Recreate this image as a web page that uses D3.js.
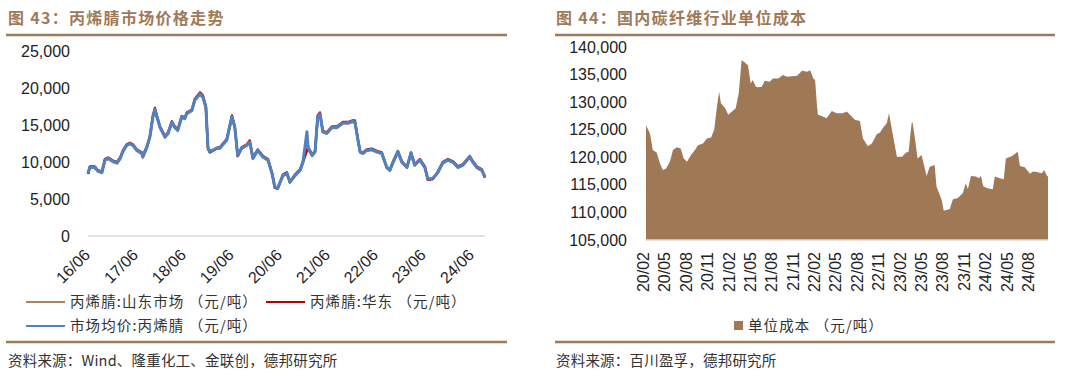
<!DOCTYPE html>
<html>
<head>
<meta charset="utf-8">
<script src="https://cdn.jsdelivr.net/npm/d3@7"></script>
<style>
    body { margin: 0; background: #fff; }
    text { font-family: "Liberation Sans", Arial, sans-serif; }
    .cjk { font-family: "Noto Sans CJK SC", sans-serif; }
</style>
</head>
<body>
<div id="chart"></div>
<script>
// 图43 丙烯腈价格
const priceDates = ["2016-06-01","2016-06-15","2016-07-23","2016-08-15","2016-09-15","2016-10-08","2016-11-01","2016-12-08","2017-01-08","2017-02-01",
    "2017-02-23","2017-03-23","2017-04-15","2017-05-08","2017-06-08","2017-07-15","2017-07-23","2017-08-23","2017-09-15","2017-10-08",
    "2017-10-23","2017-11-08","2017-12-01","2018-01-08","2018-02-01","2018-03-01","2018-03-23","2018-04-15","2018-05-15","2018-06-08",
    "2018-06-23","2018-08-01","2018-08-23","2018-10-01","2018-10-23","2018-11-15","2018-12-01","2018-12-15","2019-02-08","2019-03-01",
    "2019-04-23","2019-06-01","2019-06-23","2019-07-15","2019-08-15","2019-09-23","2019-10-15","2019-11-08","2019-12-15","2020-01-23",
    "2020-03-01","2020-04-01","2020-04-23","2020-05-15","2020-06-23","2020-07-23","2020-08-15","2020-09-23","2020-11-01","2020-11-23",
    "2020-12-23","2021-01-01","2021-02-01","2021-02-23","2021-03-15","2021-04-01","2021-04-23","2021-05-23","2021-07-01","2021-08-08",
    "2021-09-23","2021-11-01","2021-12-01","2021-12-23","2022-01-15","2022-02-01","2022-02-23","2022-03-23","2022-05-01","2022-06-08",
    "2022-07-15","2022-08-23","2022-09-15","2022-10-08","2022-11-15","2022-12-15","2023-01-23","2023-02-23","2023-03-23","2023-05-01",
    "2023-06-08","2023-07-01","2023-08-08","2023-09-15","2023-10-23","2023-12-01","2024-01-08","2024-02-15","2024-03-23","2024-05-15",
    "2024-06-08","2024-07-08","2024-08-15","2024-09-08"];

const shandong = [8400,9200,9200,8700,8500,10200,10400,10000,9800,10400,
    11400,12200,12400,12200,11500,11100,10600,11900,13300,16000,
    17000,16000,14600,13300,13800,15300,14600,14200,16000,15800,
    16500,16900,18300,19100,18700,17300,11900,11300,11800,11800,
    12900,16000,14600,10800,11800,12200,12600,10400,11500,10600,
    10200,8400,6500,6400,8100,8400,7200,8100,8800,9900,
    11500,11800,10800,11300,16000,16400,14000,13800,14600,14600,
    15200,15200,15400,15300,12900,11300,11100,11500,11600,11300,
    11100,9200,8800,9800,11300,9900,9200,11100,9500,10200,
    9200,7600,7700,8500,9800,10200,9900,9200,9500,10600,
    9900,9200,8800,7900];

const huadong = [8400,9400,9400,8900,8700,10400,10600,10200,10000,10600,
    11600,12400,12600,12400,11700,11300,10800,12100,13500,16300,
    17300,16200,14800,13500,14000,15500,14800,14400,16200,16000,
    16700,17100,18500,19400,19000,17500,11800,11300,11900,12000,
    13100,16300,14800,10800,12000,12400,12900,10600,11700,10800,
    10400,8600,6500,6400,8300,8600,7300,8300,9000,10100,
    11600,12000,11000,11500,16300,16700,14200,14000,14800,14800,
    15400,15400,15600,15600,13100,11300,11300,11700,11800,11500,
    11300,9200,8900,10000,11500,10100,9300,11300,9700,10400,
    9400,7600,7700,8700,10000,10400,10100,9400,9700,10800,
    10100,9400,9000,7900];

const avgPrice = [8500,9300,9300,8800,8600,10300,10500,10100,9900,10500,
    11500,12300,12500,12300,11600,11200,10700,12000,13400,16100,
    17100,16100,14700,13400,13900,15400,14700,14300,16100,15900,
    16600,17000,18400,19200,18800,17400,12000,11400,11900,11900,
    13000,16100,14700,10900,11900,12300,12700,10500,11600,10700,
    10300,8500,6600,6500,8200,8500,7300,8200,8900,10000,
    14100,11900,10900,11400,16100,16500,14100,13900,14700,14700,
    15300,15300,15500,15400,13000,11400,11200,11600,11700,11400,
    11200,9300,8900,9900,11400,10000,9300,11200,9600,10300,
    9300,7700,7800,8600,9900,10300,10000,9300,9600,10700,
    10000,9300,8900,8000];

const priceTicks = [0, 5000, 10000, 15000, 20000, 25000];
const priceXTicks = ["2016-06-01","2017-06-01","2018-06-01","2019-06-01","2020-06-01","2021-06-01","2022-06-01","2023-06-01","2024-06-01"];

// 图44 碳纤维单位成本
const costDates = ["2020-02-13","2020-03-01","2020-03-13","2020-03-30","2020-04-12","2020-04-25","2020-05-08","2020-05-25","2020-06-07","2020-06-24",
    "2020-07-10","2020-07-23","2020-08-06","2020-08-23","2020-09-09","2020-09-22","2020-10-13","2020-10-30","2020-11-17","2020-11-30",
    "2020-12-12","2020-12-21","2020-12-29","2021-01-16","2021-01-29","2021-02-14","2021-03-02","2021-03-15","2021-03-27","2021-04-10",
    "2021-04-23","2021-05-05","2021-05-14","2021-05-27","2021-06-04","2021-06-21","2021-07-04","2021-07-25","2021-08-08","2021-08-30",
    "2021-09-20","2021-10-07","2021-11-19","2021-12-10","2022-01-01","2022-01-14","2022-01-27","2022-02-04","2022-02-12","2022-02-16",
    "2022-03-04","2022-03-25","2022-04-16","2022-05-07","2022-06-02","2022-06-19","2022-07-10","2022-07-23","2022-08-14","2022-08-27",
    "2022-09-17","2022-10-04","2022-10-25","2022-11-08","2022-11-20","2022-12-07","2022-12-16","2023-01-02","2023-01-19","2023-02-10",
    "2023-02-26","2023-03-10","2023-03-23","2023-03-27","2023-04-09","2023-04-17","2023-05-04","2023-05-26","2023-06-08","2023-06-29",
    "2023-07-07","2023-07-29","2023-08-07","2023-09-02","2023-09-15","2023-10-06","2023-10-27","2023-11-09","2023-11-18","2023-12-01",
    "2023-12-22","2024-01-04","2024-01-13","2024-01-22","2024-02-08","2024-03-03","2024-03-12","2024-04-02","2024-04-19","2024-04-28",
    "2024-05-23","2024-06-18","2024-06-27","2024-07-18","2024-08-09","2024-08-22","2024-09-12","2024-09-29","2024-10-08","2024-10-21",
    "2024-10-25"];

const unitCost = [125800,124300,121300,120800,118900,117700,117900,119200,121300,121800,
    121600,119800,119200,120400,121300,122200,122500,123400,123600,125000,
    129200,131900,129800,128900,127700,128300,128900,131600,137600,137200,
    136700,133400,134000,132800,132700,132800,133900,133700,134300,134300,
    134900,134600,134800,135700,135500,135800,134300,134000,129200,127700,
    127500,127100,128400,128000,128000,128300,127400,126800,126600,123400,
    122000,122500,124200,124500,125300,126200,128000,124000,120100,120100,
    120800,121000,126200,126300,122500,119800,120400,116600,118300,118600,
    114700,112300,110300,110600,112400,112600,113500,115300,114200,116600,
    116500,116200,116600,114800,114400,114200,116500,116200,116000,119800,
    120200,121000,118400,118200,117000,117400,117300,117100,117700,116600,
    116500];

const costTicks = [105000, 110000, 115000, 120000, 125000, 130000, 135000, 140000];
const costXTicks = ["2020-02-01","2020-05-01","2020-08-01","2020-11-01","2021-02-01","2021-05-01","2021-08-01","2021-11-01","2022-02-01",
    "2022-05-01","2022-08-01","2022-11-01","2023-02-01","2023-05-01","2023-08-01","2023-11-01","2024-02-01","2024-05-01","2024-08-01"];

function main() {
    const brown = "#a07a58";
    const parse = d3.timeParse("%Y-%m-%d");
    const fmtComma = d3.format(",");
    const fmtYM = d3.timeFormat("%y/%m");

    const svg = d3.select("#chart").append("svg")
        .attr("width", 1080)
        .attr("height", 375);

    // ---------- headers / footers ----------
    const panels = [
        { x0: 6, x1: 507, tx: 8, title: "图 43：丙烯腈市场价格走势", src: "资料来源：Wind、隆重化工、金联创，德邦研究所" },
        { x0: 555, x1: 1055, tx: 556, title: "图 44：国内碳纤维行业单位成本", src: "资料来源：百川盈孚，德邦研究所" }
    ];
    panels.forEach(p => {
        svg.append("text")
            .attr("class", "cjk")
            .attr("x", p.tx)
            .attr("y", 24)
            .attr("font-size", "16px")
            .attr("font-weight", "bold")
            .attr("letter-spacing", "1.3px")
            .attr("fill", brown)
            .text(p.title);
        svg.append("line")
            .attr("x1", p.x0).attr("x2", p.x1)
            .attr("y1", 35).attr("y2", 35)
            .attr("stroke", brown)
            .attr("stroke-width", 2.5);
        svg.append("line")
            .attr("x1", p.x0).attr("x2", p.x1)
            .attr("y1", 342).attr("y2", 342)
            .attr("stroke", brown)
            .attr("stroke-width", 2.5);
        svg.append("text")
            .attr("class", "cjk")
            .attr("x", p.tx)
            .attr("y", 366)
            .attr("font-size", "14.5px")
            .attr("letter-spacing", "0.2px")
            .attr("fill", "#333")
            .text(p.src);
    });

    // ---------- left: 丙烯腈价格 ----------
    const xP = d3.scaleTime()
        .domain([parse(priceDates[0]), parse(priceDates[priceDates.length - 1])])
        .range([88, 485]);
    const yP = d3.scaleLinear().domain([0, 25000]).range([236, 51]);

    const left = svg.append("g");

    left.append("line")
        .attr("x1", 88).attr("x2", 485)
        .attr("y1", yP(0)).attr("y2", yP(0))
        .attr("stroke", "#d9d9d9")
        .attr("stroke-width", 1.5);

    left.selectAll(".ylab")
        .data(priceTicks)
        .enter()
        .append("text")
        .attr("class", "ylab")
        .attr("x", 70)
        .attr("y", d => yP(d))
        .attr("dy", "0.35em")
        .attr("text-anchor", "end")
        .attr("font-size", "16px")
        .attr("fill", "#222")
        .text(d => fmtComma(d));

    left.selectAll(".xlab")
        .data(priceXTicks)
        .enter()
        .append("text")
        .attr("class", "xlab")
        .attr("transform", d => "translate(" + (xP(parse(d)) + 3) + ",256) rotate(-45)")
        .attr("text-anchor", "end")
        .attr("font-size", "16px")
        .attr("fill", "#222")
        .text(d => fmtYM(parse(d)));

    const priceSeries = [
        { name: "丙烯腈:山东市场 （元/吨）", values: shandong, color: "#a8845f", width: 2.4 },
        { name: "丙烯腈:华东 （元/吨）", values: huadong, color: "#c00000", width: 2.4 },
        { name: "市场均价:丙烯腈 （元/吨）", values: avgPrice, color: "#4f81c4", width: 3 }
    ];

    priceSeries.forEach(s => {
        const line = d3.line()
            .x((d, i) => xP(parse(priceDates[i])))
            .y(d => yP(d));
        left.append("path")
            .datum(s.values)
            .attr("d", line)
            .attr("fill", "none")
            .attr("stroke", s.color)
            .attr("stroke-width", s.width)
            .attr("stroke-linejoin", "round");
    });

    // legend
    const legPos = [[26, 302], [266, 302], [26, 326]];
    priceSeries.forEach((s, i) => {
        const [lx, ly] = legPos[i];
        left.append("line")
            .attr("x1", lx).attr("x2", lx + 39)
            .attr("y1", ly).attr("y2", ly)
            .attr("stroke", s.color)
            .attr("stroke-width", 2.2);
        left.append("text")
            .attr("class", "cjk")
            .attr("x", lx + 44)
            .attr("y", ly)
            .attr("dy", "0.36em")
            .attr("font-size", "14.5px")
            .attr("letter-spacing", "1.1px")
            .attr("fill", "#333")
            .text(s.name);
    });

    // ---------- right: 碳纤维单位成本 ----------
    const xC = d3.scaleTime()
        .domain([parse(costDates[0]), parse(costDates[costDates.length - 1])])
        .range([646, 1048]);
    const yC = d3.scaleLinear().domain([105000, 140000]).range([240, 47]);

    const right = svg.append("g");

    const area = d3.area()
        .x((d, i) => xC(parse(costDates[i])))
        .y0(yC(105000))
        .y1(d => yC(d));

    right.append("path")
        .datum(unitCost)
        .attr("d", area)
        .attr("fill", "#9f7856");

    right.append("line")
        .attr("x1", 646).attr("x2", 1048)
        .attr("y1", yC(105000)).attr("y2", yC(105000))
        .attr("stroke", "#d9d9d9")
        .attr("stroke-width", 1.5);

    right.selectAll(".ylab")
        .data(costTicks)
        .enter()
        .append("text")
        .attr("class", "ylab")
        .attr("x", 627)
        .attr("y", d => yC(d))
        .attr("dy", "0.35em")
        .attr("text-anchor", "end")
        .attr("font-size", "16px")
        .attr("fill", "#222")
        .text(d => fmtComma(d));

    right.selectAll(".xlab")
        .data(costXTicks)
        .enter()
        .append("text")
        .attr("class", "xlab")
        .attr("transform", d => "translate(" + (xC(parse(d)) + 6) + ",252) rotate(-90)")
        .attr("text-anchor", "end")
        .attr("font-size", "16px")
        .attr("fill", "#222")
        .text(d => fmtYM(parse(d)));

    right.append("rect")
        .attr("x", 734).attr("y", 321)
        .attr("width", 9).attr("height", 9)
        .attr("fill", "#9f7856");
    right.append("text")
        .attr("class", "cjk")
        .attr("x", 748)
        .attr("y", 325.5)
        .attr("dy", "0.36em")
        .attr("font-size", "14.5px")
        .attr("letter-spacing", "1.1px")
        .attr("fill", "#333")
        .text("单位成本 （元/吨）");
}
main();
</script>
</body>
</html>
